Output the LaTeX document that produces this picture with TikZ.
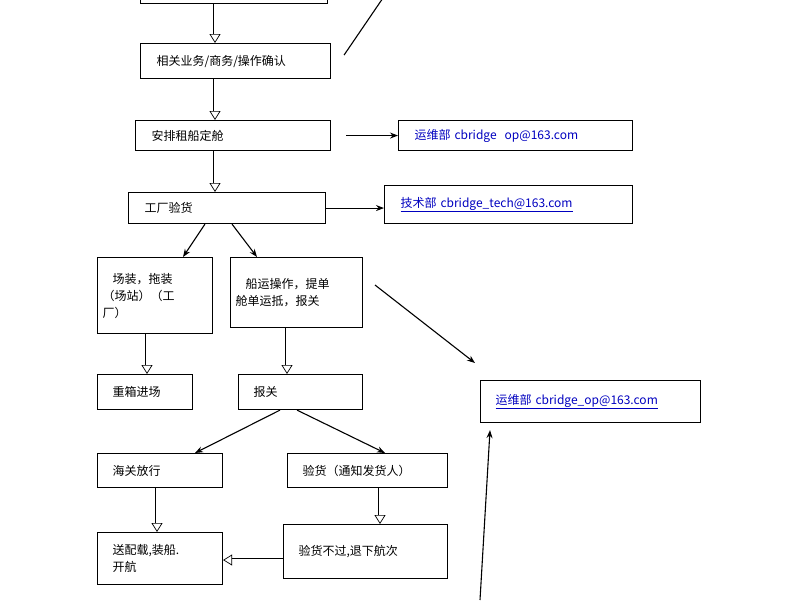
\documentclass[tikz,border=0pt]{standalone}
\usepackage{fontspec}
\setmainfont{Noto Sans CJK SC}
\usetikzlibrary{arrows.meta}
\begin{document}
\begin{tikzpicture}[x=1pt,y=-1pt,
  box/.style={draw,line width=1.1pt,anchor=north west,inner sep=0pt,font=\fontsize{12}{17}\selectfont,align=left},
  mail/.style={box,text=blue!75!black},
  hollow/.style={draw=black,line width=0.7pt,double=white,double distance=3pt,-{Triangle[open,length=9pt,width=11pt,line width=0.7pt]}},
  arr/.style={line width=1.1pt,-{Stealth[length=8pt,width=6pt]}},
  ln/.style={line width=1.1pt}]
\useasboundingbox (0,0) rectangle (800,600);
\clip (0,0) rectangle (800,600);
\newcommand{\bx}[7]{\node[#1,minimum width=#4-#2,minimum height=#5-#3,text width=#4-#2-#6] (#7) at (#2,#3) {};}
% boxes
\node[box,minimum width=187pt,minimum height=15pt] (b0) at (140,-12) {};
\node[box,minimum width=190pt,minimum height=35pt,text width=178pt] (b1) at (140,43) {\hspace*{10pt}相关业务/商务/操作确认};
\node[box,minimum width=195pt,minimum height=30pt,text width=183pt] (b2) at (135,120) {\hspace*{10pt}安排租船定舱};
\node[mail,minimum width=234pt,minimum height=30pt,text width=222pt] (e1) at (398,120) {\hspace*{10pt}运维部 cbridge\ \ op@163.com};
\node[box,minimum width=197pt,minimum height=31pt,text width=185pt] (b3) at (128,192) {\hspace*{10pt}工厂验货};
\node[mail,minimum width=248pt,minimum height=38pt,text width=236pt] (e2) at (384,185) {\hspace*{10pt}\underline{技术部 cbridge\_tech@163.com}};
\node[box,minimum width=115pt,minimum height=76pt,text width=105pt] (b4) at (97,257) {\hspace*{10pt}场装，拖装\\（场站）（工\\厂）};
\node[box,minimum width=132pt,minimum height=70pt,text width=122pt] (b5) at (230,257) {\hspace*{10pt}船运操作，提单\\舱单运抵，报关};
\node[box,minimum width=95pt,minimum height=35pt,text width=85pt] (b6) at (97,374) {\hspace*{10pt}重箱进场};
\node[box,minimum width=124pt,minimum height=35pt,text width=114pt] (b7) at (238,374) {\hspace*{10pt}报关};
\node[mail,minimum width=220pt,minimum height=42pt,text width=210pt] (e3) at (480,380) {\hspace*{10pt}\underline{运维部 cbridge\_op@163.com}};
\node[box,minimum width=125pt,minimum height=34pt,text width=115pt] (b8) at (97,453) {\hspace*{10pt}海关放行};
\node[box,minimum width=160pt,minimum height=34pt,text width=150pt] (b9) at (287,453) {\hspace*{10pt}验货（通知发货人）};
\node[box,minimum width=164pt,minimum height=54pt,text width=154pt] (b10) at (283,524) {\hspace*{10pt}验货不过,退下航次\\[18pt]};
\node[box,minimum width=125pt,minimum height=52pt,text width=115pt] (b11) at (97,532) {\hspace*{10pt}送配载,装船.\\\hspace*{10pt}开航};
% connectors
\coordinate (c0) at (385,-5);
\coordinate (cs) at (375,285);
\coordinate (cb) at (480,600);
\draw[hollow] (b0.south -| 215,0) -- (b1.north -| 215,0);
\draw[hollow] (b1.south -| 215,0) -- (b2.north -| 215,0);
\draw[hollow] (b2.south -| 215,0) -- (b3.north -| 215,0);
\draw[hollow] (b4.south -| 147,0) -- (b6.north -| 147,0);
\draw[hollow] (b5.south -| 287,0) -- (b7.north -| 287,0);
\draw[hollow] (b8.south -| 157,0) -- (b11.north -| 157,0);
\draw[hollow] (b9.south -| 380,0) -- (b10.north -| 380,0);
\draw[hollow] (b10.west |- 0,560) -- (b11.east |- 0,560);
\draw[ln] ([xshift=13pt,yshift=-12pt]b1.north east) -- (c0);
\draw[arr] ([xshift=15pt]b2.east) -- (e1.west);
\draw[arr] (b3.east) -- (e2.west |- b3.east);
\draw[arr] ([xshift=77pt]b3.south west) -- ([xshift=86pt]b4.north west);
\draw[arr] ([xshift=104pt]b3.south west) -- ([xshift=27pt]b5.north west);
\draw[arr] (cs) -- ([xshift=-5pt,yshift=17pt]e3.north west);
\draw[arr] (cb) -- ([xshift=10pt,yshift=-7pt]e3.south west);
\draw[arr] ([xshift=42pt]b7.south west) -- ([xshift=98pt]b8.north west);
\draw[arr] ([xshift=59pt]b7.south west) -- ([xshift=98pt]b9.north west);
\end{tikzpicture}
\end{document}
